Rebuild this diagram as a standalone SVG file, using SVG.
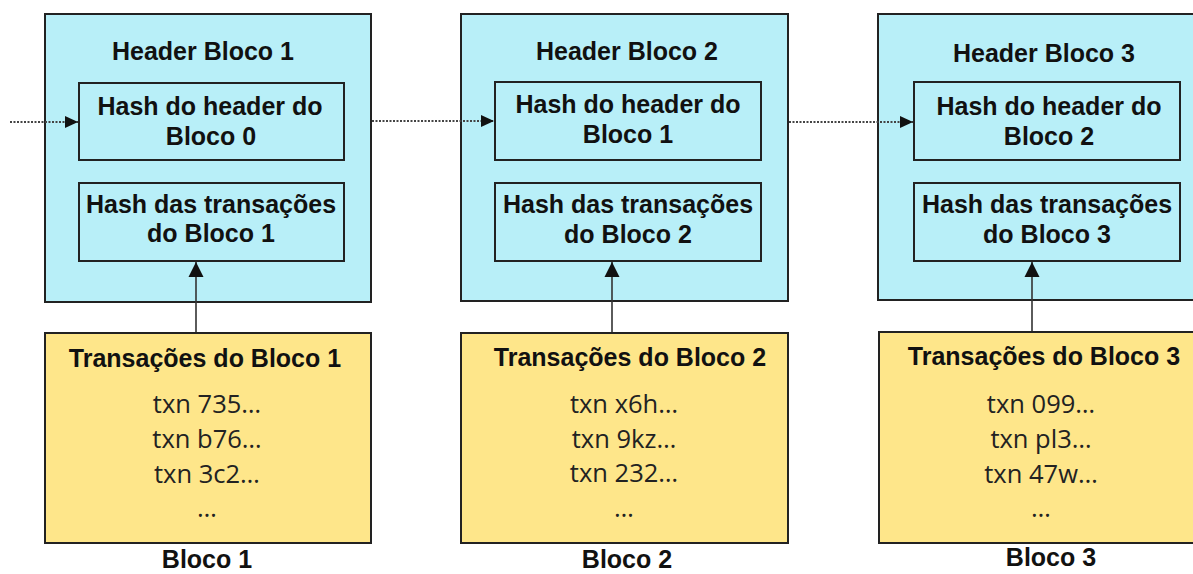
<svg xmlns="http://www.w3.org/2000/svg" width="1193" height="574" viewBox="0 0 1193 574">
<style>
.hdr{fill:#b8eff8;stroke:#222;stroke-width:2}
.inner{fill:#b8eff8;stroke:#222;stroke-width:2}
.tx{fill:#fee68a;stroke:#222;stroke-width:2}
.b{font-family:"Liberation Sans",Arial,sans-serif;font-weight:bold;font-size:25px;fill:#111;text-anchor:middle}
.t{font-family:"Open Sans","Noto Sans",sans-serif;font-size:25.5px;fill:#222;text-anchor:middle}
.dot{stroke:#444;stroke-width:1.8;stroke-dasharray:2 1.5;fill:none}
.up{stroke:#333;stroke-width:1.6;fill:none}
</style>
<defs>
<marker id="ah" markerWidth="14" markerHeight="14" refX="13" refY="7" orient="auto" markerUnits="userSpaceOnUse">
<path d="M0,1 L13,7 L0,13 Z" fill="#111"/>
</marker>
<marker id="au" markerWidth="16" markerHeight="16" refX="15" refY="8" orient="auto" markerUnits="userSpaceOnUse">
<path d="M0,0.5 L15,8 L0,15.5 Z" fill="#111"/>
</marker>
</defs>
<rect width="1193" height="574" fill="#fff"/>

<g id="bloco1">
<rect class="hdr" x="45" y="14" width="326" height="288"/>
<text class="b" x="203" y="60">Header Bloco 1</text>
<rect class="inner" x="79" y="83" width="265" height="77"/>
<text class="b" x="210" y="115">Hash do header do</text>
<text class="b" x="211" y="145">Bloco 0</text>
<rect class="inner" x="79" y="183" width="265" height="78"/>
<text class="b" x="211" y="213">Hash das transações</text>
<text class="b" x="211" y="242">do Bloco 1</text>
<rect class="tx" x="45" y="333" width="326" height="210"/>
<text class="b" x="205" y="367">Transações do Bloco 1</text>
<text class="t" x="207" y="413">txn 735…</text>
<text class="t" x="207" y="448">txn b76…</text>
<text class="t" x="207" y="483">txn 3c2…</text>
<text class="t" x="207" y="517">…</text>
<text class="b" x="207" y="568">Bloco 1</text>
</g>

<g id="bloco2">
<rect class="hdr" x="461" y="14" width="327" height="287"/>
<text class="b" x="627" y="60">Header Bloco 2</text>
<rect class="inner" x="495" y="82" width="266" height="78"/>
<text class="b" x="628" y="113">Hash do header do</text>
<text class="b" x="628" y="143">Bloco 1</text>
<rect class="inner" x="495" y="183" width="266" height="78"/>
<text class="b" x="628" y="213">Hash das transações</text>
<text class="b" x="628" y="243">do Bloco 2</text>
<rect class="tx" x="461" y="333" width="327" height="210"/>
<text class="b" x="630" y="366">Transações do Bloco 2</text>
<text class="t" x="624" y="413">txn x6h…</text>
<text class="t" x="624" y="448">txn 9kz…</text>
<text class="t" x="624" y="482">txn 232…</text>
<text class="t" x="624" y="517">…</text>
<text class="b" x="627" y="568">Bloco 2</text>
</g>

<g id="bloco3">
<rect class="hdr" x="878" y="14" width="327" height="286"/>
<text class="b" x="1044" y="62">Header Bloco 3</text>
<rect class="inner" x="914" y="82" width="266" height="78"/>
<text class="b" x="1049" y="115">Hash do header do</text>
<text class="b" x="1049" y="145">Bloco 2</text>
<rect class="inner" x="914" y="183" width="266" height="78"/>
<text class="b" x="1047" y="213">Hash das transações</text>
<text class="b" x="1047" y="243">do Bloco 3</text>
<rect class="tx" x="879" y="332" width="327" height="211"/>
<text class="b" x="1044" y="365">Transações do Bloco 3</text>
<text class="t" x="1041" y="413">txn 099…</text>
<text class="t" x="1041" y="448">txn pl3…</text>
<text class="t" x="1041" y="483">txn 47w…</text>
<text class="t" x="1041" y="517">…</text>
<text class="b" x="1051" y="566">Bloco 3</text>
</g>

<g id="connectors">
<line class="dot" x1="10" y1="122" x2="78" y2="122" marker-end="url(#ah)"/>
<line class="dot" x1="372" y1="121" x2="494" y2="121" marker-end="url(#ah)"/>
<line class="dot" x1="789" y1="122" x2="913" y2="122" marker-end="url(#ah)"/>
<line class="up" x1="196" y1="332" x2="196" y2="262" marker-end="url(#au)"/>
<line class="up" x1="612" y1="332" x2="612" y2="262" marker-end="url(#au)"/>
<line class="up" x1="1032" y1="331" x2="1032" y2="262" marker-end="url(#au)"/>
</g>
</svg>
